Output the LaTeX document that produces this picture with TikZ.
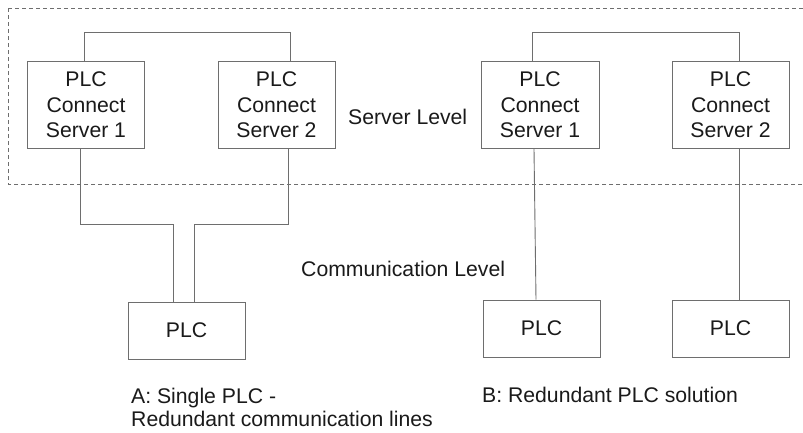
\documentclass[tikz,border=0pt]{standalone}
\usepackage{fontspec}
\setmainfont{Liberation Sans}
\definecolor{linegray}{HTML}{6E6E6E}
\definecolor{txt}{HTML}{1A1A1A}
\begin{document}
\begin{tikzpicture}[x=1pt,y=1pt,
  every node/.style={text=txt,font=\fontsize{21.2}{25.5}\selectfont},
  srvbox/.style={draw=linegray,line width=0.9pt,minimum width=117pt,minimum height=87pt,align=center,inner sep=0pt},
  plcbox/.style={draw=linegray,line width=0.9pt,minimum width=117pt,minimum height=57pt,inner sep=0pt},
  label/.style={inner sep=0pt,anchor=base west,align=left},
  conn/.style={draw=linegray,line width=0.9pt}]
\useasboundingbox (0,0) rectangle (803,432);
\fill[white] (0,0) rectangle (803,432);
\draw[linegray,line width=0.8pt,dash pattern=on 4pt off 3pt] (8,424) -- (830,424) (830,248) -- (8,248) -- (8,424);
\node[srvbox] (A1) at (86,327) {PLC\\Connect\\Server 1};
\node[srvbox] (A2) at (276.5,327) {PLC\\Connect\\Server 2};
\node[srvbox,minimum width=118pt] (B1) at (540,327) {PLC\\Connect\\Server 1};
\node[srvbox] (B2) at (730.5,327) {PLC\\Connect\\Server 2};
\node[plcbox] (PA) at (186.5,101.5) {PLC};
\node[plcbox] (PB1) at (541.5,103.5) {PLC};
\node[plcbox] (PB2) at (730.5,103.5) {PLC};
\node[label] (sl) at (348,308) {Server Level};
\node[label] (cl) at (301,155.3) {Communication Level};
\node[label,font=\fontsize{21.2}{23.5}\selectfont] (ca) at (131,5.4) {A: Single PLC -\\Redundant communication lines};
\node[label] (cb) at (482,29.3) {B: Redundant PLC solution};
% top links
\draw[conn] ([xshift=-2pt]A1.north) -- ++(0,28.5) -| ([xshift=13.5pt]A2.north);
\draw[conn] ([xshift=-8pt]B1.north) -- ++(0,28.5) -| ([xshift=8.5pt]B2.north);
% A bottom links
\draw[conn] ([xshift=-6pt]A1.south) -- ++(0,-75.5) -| ([xshift=-13.5pt]PA.north);
\draw[conn] ([xshift=11.5pt]A2.south) -- ++(0,-75.5) -| ([xshift=7.5pt]PA.north);
% B bottom links
\draw[conn] ([xshift=-6pt]B1.south) -- ([xshift=-5.5pt]PB1.north);
\draw[conn] ([xshift=8.5pt]B2.south) -- ([xshift=8.5pt]PB2.north);
\end{tikzpicture}
\end{document}
